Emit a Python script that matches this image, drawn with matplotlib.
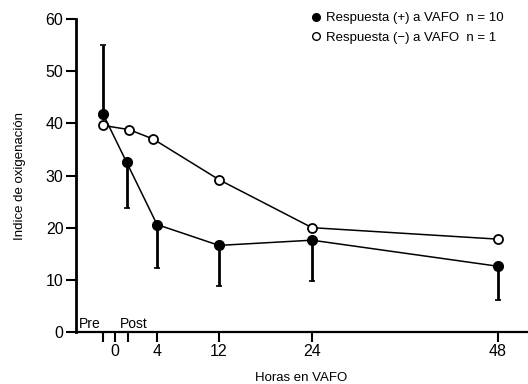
import numpy as np
import matplotlib
matplotlib.use("Agg")
import matplotlib.pyplot as plt

# horas en VAFO (Pre = -1, Post = 1)
horas = [-1, 0.9, 4, 12, 24, 48]

pos_media = [41.8, 32.5, 20.6, 16.6, 17.6, 12.6]
pos_sd_up = [13.2, 0, 0, 0, 0, 0]
pos_sd_down = [0, 8.8, 8.3, 7.7, 7.8, 6.4]

neg_horas = [-1, 1.1, 3.6, 12, 24, 48]
neg_media = [39.6, 38.8, 37.0, 29.2, 20.0, 17.8]

xticks = [-1, 0, 1, 4, 12, 24, 48]
xticklabels = ["", "0", "", "4", "12", "24", "48"]
yticks = [0, 10, 20, 30, 40, 50, 60]

# escala no lineal del eje x (0-4 h ampliado)
h_pts = [-3.25, -1, 0, 1, 4, 48, 51.74]
p_pts = [76, 103, 115, 128, 157, 498, 527]


def fwd(x):
    return np.interp(x, h_pts, p_pts)


def inv(p):
    return np.interp(p, p_pts, h_pts)


def main():
    plt.rcParams['font.family'] = ['Liberation Sans', 'DejaVu Sans']
    fig = plt.figure(figsize=(5.28, 3.84), dpi=100)
    ax = fig.add_axes([76 / 528, 52 / 384, 451 / 528, 313 / 384])
    ax.set_xscale('function', functions=(fwd, inv))

    ax.errorbar(horas, pos_media, yerr=[pos_sd_down, pos_sd_up], fmt='-o',
                color='black', mfc='black', ms=7, lw=1.1, elinewidth=2,
                capsize=2.5, capthick=1.2, zorder=3)
    ax.plot(neg_horas, neg_media, '-o', color='black', mfc='white', mew=1.3,
            ms=6.5, lw=1.1, zorder=4)

    ax.set_xlim(-3.25, 51.74)
    ax.set_ylim(0, 60)
    ax.set_xticks(xticks)
    ax.set_xticklabels(xticklabels)
    ax.set_yticks(yticks)
    ax.xaxis.set_minor_locator(matplotlib.ticker.NullLocator())
    ax.tick_params(axis='both', direction='out', length=7, width=1.5,
                   labelsize=11.5, pad=2)

    for s in ['top', 'right']:
        ax.spines[s].set_visible(False)
    ax.spines['left'].set_linewidth(2)
    ax.spines['bottom'].set_linewidth(1.6)

    ax.set_ylabel("Indice de oxigenación", fontsize=9.5, labelpad=14)
    ax.set_xlabel("Horas en VAFO", fontsize=9.5, labelpad=9)

    ax.text(-3.0, 0.8, "Pre", fontsize=10)
    ax.text(0.4, 0.8, "Post", fontsize=10)

    ax.plot([], [], 'o', color='black', ms=5.5, label="Respuesta (+) a VAFO  n = 10")
    ax.plot([], [], 'o', color='black', mfc='white', ms=5.5,
            label="Respuesta (−) a VAFO  n = 1")
    handles, labels = ax.get_legend_handles_labels()
    ax.legend(handles[-2:], labels[-2:], loc='upper right',
              bbox_to_anchor=(0.975, 1.06), frameon=False, fontsize=9.5,
              handletextpad=0.3, handlelength=1, labelspacing=0.55)

    plt.savefig("out.png", dpi=100)
    plt.close()


if __name__ == "__main__":
    main()
